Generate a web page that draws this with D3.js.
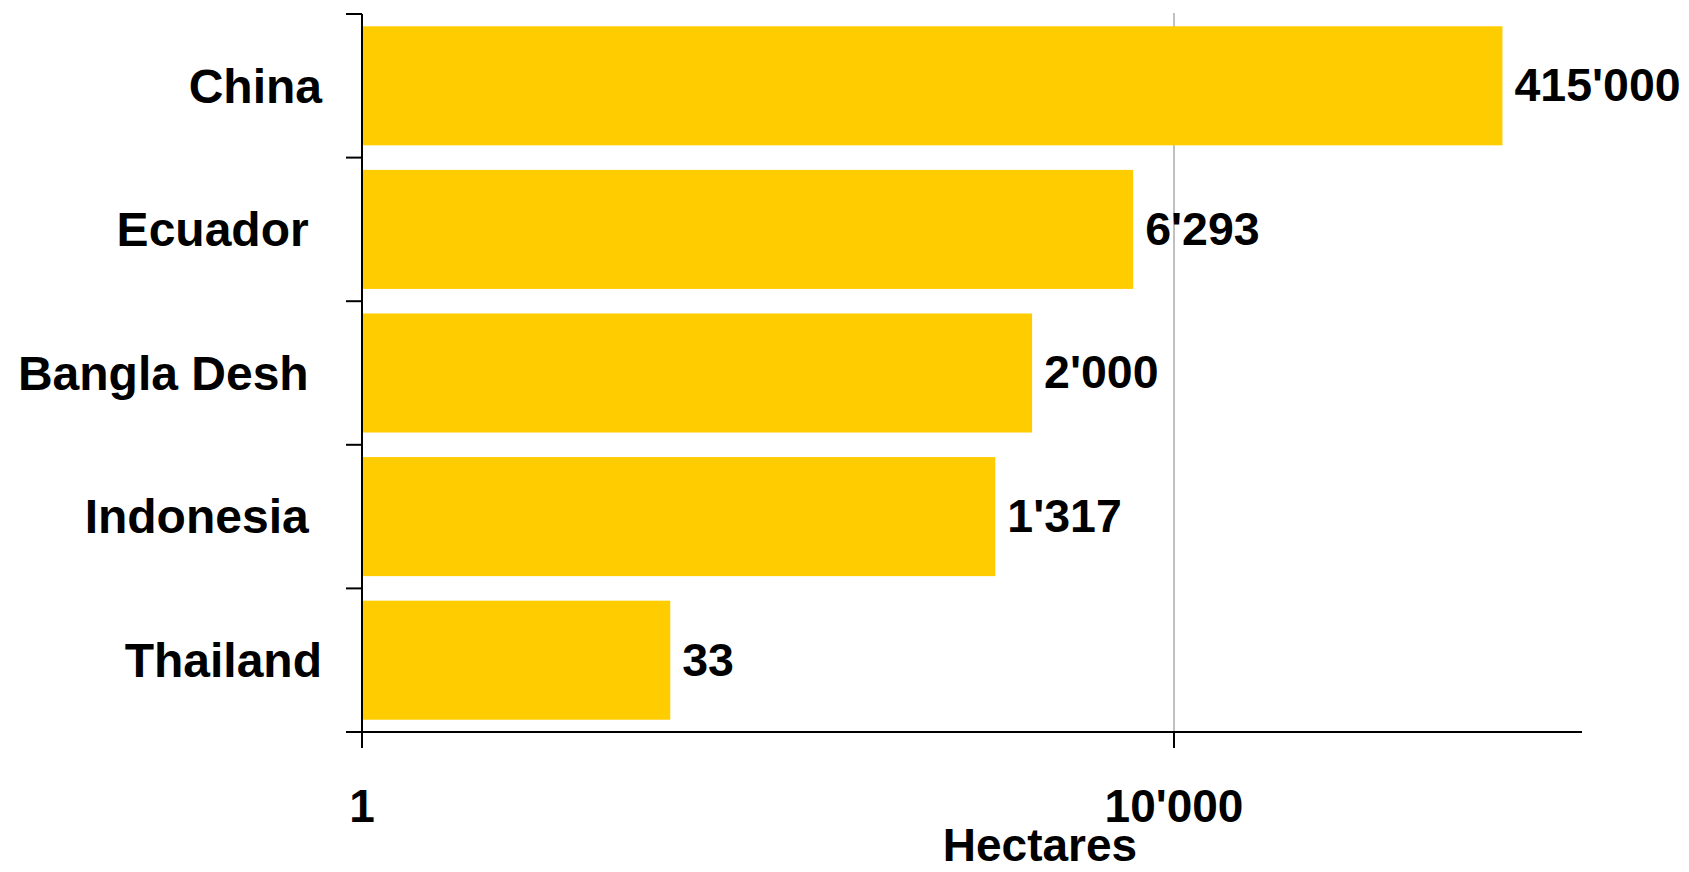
<!DOCTYPE html>
<html>
<head>
<meta charset="utf-8">
<script src="https://cdn.jsdelivr.net/npm/d3@7"></script>
<style>
  html, body { margin: 0; padding: 0; background: #fff; }
  svg { display: block; }
  text { font-family: "Liberation Sans", Arial, sans-serif; font-weight: bold; fill: #000; }
</style>
</head>
<body>
<svg id="chart" width="1689" height="872"></svg>
<script>
// Data
const categories = ["China", "Ecuador ", "Bangla Desh ", "Indonesia ", "Thailand"];
const values = [415000, 6293, 2000, 1317, 33];
const tickValues = [1, 10000];
const axisTitle = "Hectares";

const mLeft = 362, mRight = 1580, mTop = 14, mBottom = 732;

const svg = d3.select("#chart");
const loc = d3.formatLocale({decimal: ".", thousands: "'", grouping: [3], currency: ["", ""]});
const fmt = loc.format(",d");

const x = d3.scaleLog().domain([1, 1e6]).range([mLeft, mRight]);
const pad = 0.171;
const y = d3.scaleBand().domain(categories).range([mTop, mBottom]).paddingInner(pad).paddingOuter(pad / 2);
const step = y.step();

// gridline
svg.append("g").selectAll("line").data(tickValues.filter(v => v !== 1)).join("line")
  .attr("x1", d => x(d)).attr("x2", d => x(d))
  .attr("y1", mTop - 1).attr("y2", mBottom)
  .attr("stroke", "#c0c0c0").attr("stroke-width", 2);

// bars
svg.append("g").selectAll("rect").data(categories).join("rect")
  .attr("x", x(1))
  .attr("y", d => y(d))
  .attr("width", (d, i) => x(values[i]) - x(1))
  .attr("height", y.bandwidth())
  .attr("fill", "#FFCC00");

// value labels
svg.append("g").selectAll("text").data(categories).join("text")
  .attr("x", (d, i) => x(values[i]) + 12)
  .attr("y", d => y(d) + y.bandwidth() / 2)
  .attr("dy", "0.33em")
  .attr("font-size", 46.5)
  .text((d, i) => fmt(values[i]));

// category labels
svg.append("g").selectAll("text").data(categories).join("text")
  .attr("x", 322)
  .attr("y", d => y(d) + y.bandwidth() / 2)
  .attr("dy", "0.35em")
  .attr("text-anchor", "end")
  .attr("font-size", 48)
  .style("white-space", "pre")
  .text(d => d);

// axes
const ax = svg.append("g").attr("stroke", "#000").attr("stroke-width", 2);
ax.append("line").attr("x1", mLeft).attr("x2", mLeft).attr("y1", mTop).attr("y2", mBottom + 16);
const boundaries = categories.map(c => y(c) - step * pad / 2).concat([mBottom]);
ax.selectAll("line.yt").data(boundaries).join("line").attr("class", "yt")
  .attr("x1", mLeft - 16).attr("x2", mLeft).attr("y1", d => d).attr("y2", d => d);

ax.append("line").attr("x1", mLeft - 16).attr("x2", mRight + 2).attr("y1", mBottom).attr("y2", mBottom);
ax.selectAll("line.xt").data(tickValues).join("line").attr("class", "xt")
  .attr("x1", d => x(d)).attr("x2", d => x(d)).attr("y1", mBottom).attr("y2", mBottom + 16);

svg.append("g").selectAll("text").data(tickValues).join("text")
  .attr("x", d => x(d))
  .attr("y", 822)
  .attr("text-anchor", "middle")
  .attr("font-size", 46)
  .text(d => fmt(d));

svg.append("text")
  .attr("x", 1040).attr("y", 861)
  .attr("text-anchor", "middle")
  .attr("font-size", 46)
  .text(axisTitle);
</script>
</body>
</html>
